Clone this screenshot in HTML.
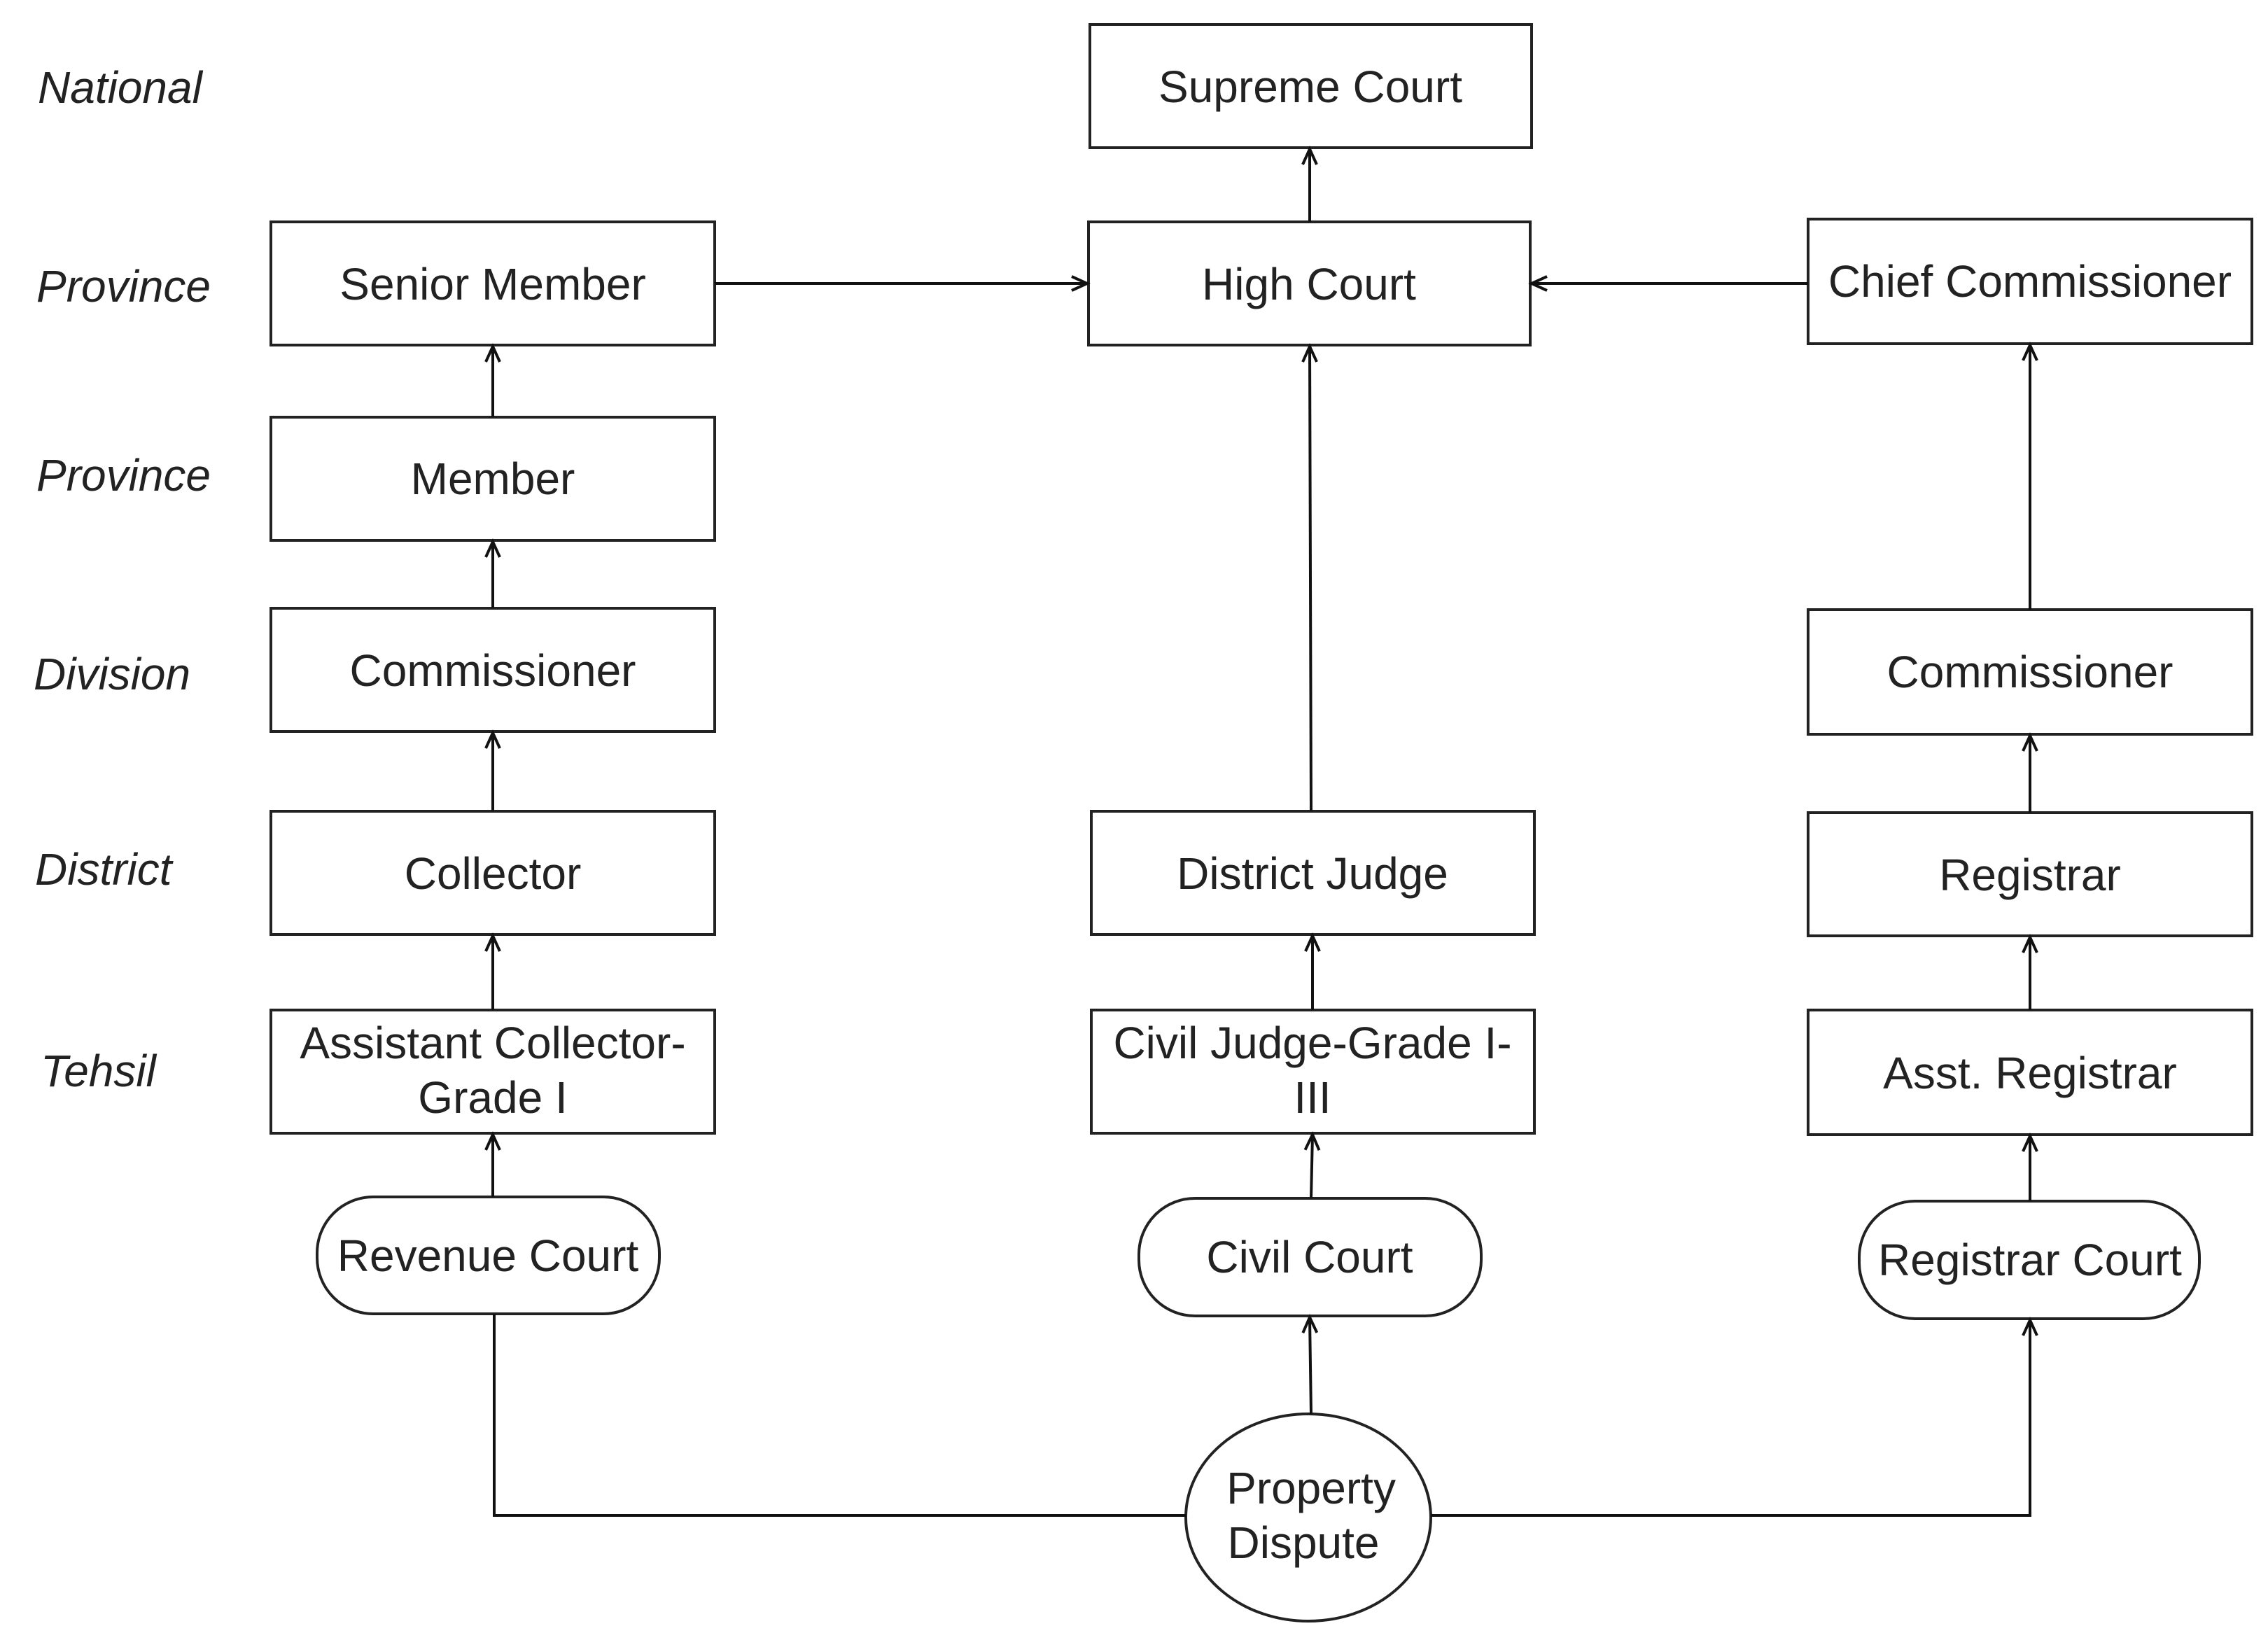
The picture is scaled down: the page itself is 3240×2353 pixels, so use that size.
<!DOCTYPE html>
<html><head><meta charset="utf-8"><style>body{margin:0;background:#fff}svg{display:block}text{font-family:"Liberation Sans",sans-serif;font-size:64px;fill:#222}</style></head><body>
<svg width="3240" height="2353" viewBox="0 0 3240 2353" xmlns="http://www.w3.org/2000/svg">
<defs><marker id="a" markerWidth="30" markerHeight="30" refX="24" refY="12" orient="auto" markerUnits="userSpaceOnUse"><path d="M2,2 L24,12 L2,22" fill="none" stroke="#111" stroke-width="4"/></marker></defs>
<g fill="#fff" stroke="#222" stroke-width="4">
<rect x="1557" y="35" width="631" height="176"/>
<rect x="1555" y="317" width="631" height="176"/>
<rect x="387" y="317" width="634" height="176"/>
<rect x="2583" y="313" width="634" height="178"/>
<rect x="387" y="596" width="634" height="176"/>
<rect x="387" y="869" width="634" height="176"/>
<rect x="2583" y="871" width="634" height="178"/>
<rect x="387" y="1159" width="634" height="176"/>
<rect x="1559" y="1159" width="633" height="176"/>
<rect x="2583" y="1161" width="634" height="176"/>
<rect x="387" y="1443" width="634" height="176"/>
<rect x="1559" y="1443" width="633" height="176"/>
<rect x="2583" y="1443" width="634" height="178"/>
<rect x="453" y="1710" width="489" height="167" rx="80"/>
<rect x="1627" y="1712" width="489" height="168" rx="80"/>
<rect x="2656" y="1716" width="486" height="168" rx="80"/>
<ellipse cx="1869" cy="2168" rx="175" ry="148"/>
</g>
<g stroke="#111" stroke-width="4" fill="none" marker-end="url(#a)">
<line x1="1871" y1="317" x2="1871" y2="213"/>
<line x1="1021" y1="405" x2="1553" y2="405"/>
<line x1="2583" y1="405" x2="2188" y2="405"/>
<line x1="1873" y1="1159" x2="1871" y2="495"/>
<line x1="2900" y1="871" x2="2900" y2="493"/>
<line x1="704" y1="596" x2="704" y2="495"/>
<line x1="704" y1="869" x2="704" y2="774"/>
<line x1="704" y1="1159" x2="704" y2="1047"/>
<line x1="2900" y1="1161" x2="2900" y2="1051"/>
<line x1="704" y1="1443" x2="704" y2="1337"/>
<line x1="1875" y1="1443" x2="1875" y2="1337"/>
<line x1="2900" y1="1443" x2="2900" y2="1339"/>
<line x1="704" y1="1710" x2="704" y2="1621"/>
<line x1="1873" y1="1712" x2="1875" y2="1621"/>
<line x1="2900" y1="1716" x2="2900" y2="1623"/>
<line x1="1873" y1="2020" x2="1871" y2="1882"/>
<path d="M2044,2165 L2900,2165 L2900,1886"/>
</g>
<path d="M1694,2165 L706,2165 L706,1877" stroke="#111" stroke-width="4" fill="none"/>
<g text-anchor="middle">
<text x="1872" y="146">Supreme Court</text>
<text x="1870" y="428">High Court</text>
<text x="704" y="428">Senior Member</text>
<text x="2900" y="424">Chief Commissioner</text>
<text x="704" y="706">Member</text>
<text x="704" y="980">Commissioner</text>
<text x="2900" y="982">Commissioner</text>
<text x="704" y="1270">Collector</text>
<text x="1875" y="1270">District Judge</text>
<text x="2900" y="1272">Registrar</text>
<text x="704" y="1512">Assistant Collector-</text>
<text x="704" y="1590">Grade I</text>
<text x="1875" y="1512">Civil Judge-Grade I-</text>
<text x="1875" y="1590">III</text>
<text x="2900" y="1555">Asst. Registrar</text>
<text x="697" y="1816">Revenue Court</text>
<text x="1871" y="1818">Civil Court</text>
<text x="2900" y="1822">Registrar Court</text>
<text x="1873" y="2148">Property</text>
<text x="1862" y="2226">Dispute</text>
</g>
<g font-style="italic">
<text x="54" y="147">National</text>
<text x="52" y="431">Province</text>
<text x="52" y="701">Province</text>
<text x="48" y="985">Division</text>
<text x="50" y="1264">District</text>
<text x="58" y="1552">Tehsil</text>
</g>
</svg>
</body></html>
